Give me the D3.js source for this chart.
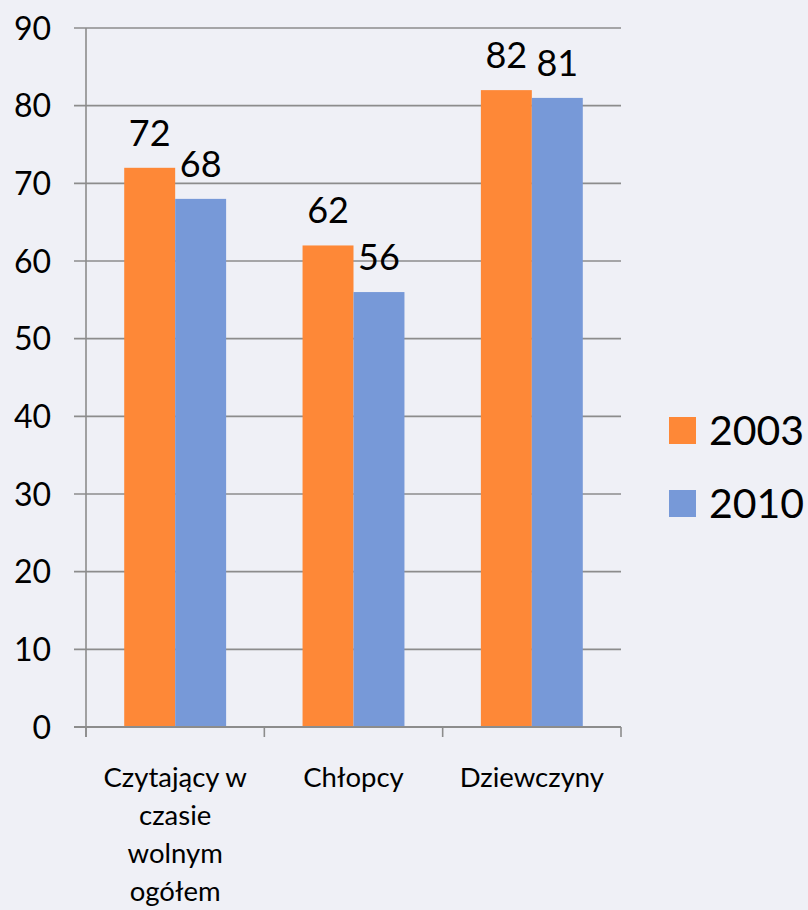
<!DOCTYPE html>
<html>
<head>
<meta charset="utf-8">
<script src="https://cdn.jsdelivr.net/npm/d3@7"></script>
<style>
  html, body { margin: 0; padding: 0; background: #eff0f6; }
  svg { display: block; font-family: Lato, "Open Sans", sans-serif; }
</style>
</head>
<body>
<svg width="808" height="910"></svg>
<script>
const categories = ["Czytający w\nczasie\nwolnym\nogółem", "Chłopcy", "Dziewczyny"];
const seriesNames = ["2003", "2010"];
const values2003 = [72, 62, 82];
const values2010 = [68, 56, 81];
const yTicks = [0, 10, 20, 30, 40, 50, 60, 70, 80, 90];
const colors = ["#fe8837", "#7799d8"];

const svg = d3.select("svg");
const rows = categories.map((c, i) => ({ cat: c, vals: [values2003[i], values2010[i]] }));

const x0 = d3.scaleBand().domain(categories).range([86, 621]);
const x1 = d3.scaleBand().domain(seriesNames).range([0, x0.bandwidth()]).paddingOuter(0.75);
const y = d3.scaleLinear().domain([0, 90]).range([727, 28]);

// gridlines
svg.selectAll("line.grid")
  .data(yTicks)
  .enter()
  .append("line")
  .attr("class", "grid")
  .attr("x1", 74)
  .attr("x2", 621)
  .attr("y1", d => y(d))
  .attr("y2", d => y(d))
  .attr("stroke", "#8c8c8c")
  .attr("stroke-width", 1.6);

// y tick labels
svg.selectAll("text.ytick")
  .data(yTicks)
  .enter()
  .append("text")
  .attr("class", "ytick")
  .attr("x", 51)
  .attr("y", d => y(d))
  .attr("dy", "0.36em")
  .attr("text-anchor", "end")
  .attr("font-size", "32px")
  .attr("fill", "#000")
  .text(d => d);

// bars
const group = svg.selectAll("g.cat")
  .data(rows)
  .enter()
  .append("g")
  .attr("class", "cat")
  .attr("transform", d => `translate(${x0(d.cat)},0)`);

group.selectAll("rect")
  .data(d => d.vals.map((v, j) => ({ s: seriesNames[j], v, j })))
  .enter()
  .append("rect")
  .attr("x", d => x1(d.s))
  .attr("width", x1.bandwidth())
  .attr("y", d => y(d.v))
  .attr("height", d => y(0) - y(d.v))
  .attr("fill", d => colors[d.j]);

group.selectAll("text.val")
  .data(d => d.vals.map((v, j) => ({ s: seriesNames[j], v, j })))
  .enter()
  .append("text")
  .attr("class", "val")
  .attr("x", d => x1(d.s) + x1.bandwidth() / 2)
  .attr("y", d => y(d.v) - 22)
  .attr("text-anchor", "middle")
  .attr("font-size", "36px")
  .attr("fill", "#000")
  .text(d => d.v);

// axes lines
svg.append("line")
  .attr("x1", 86).attr("x2", 86)
  .attr("y1", y(90)).attr("y2", y(0) + 10)
  .attr("stroke", "#8c8c8c").attr("stroke-width", 1.6);

svg.append("line")
  .attr("x1", 74).attr("x2", 621)
  .attr("y1", y(0)).attr("y2", y(0))
  .attr("stroke", "#8c8c8c").attr("stroke-width", 2);

const tickXs = categories.map(c => x0(c)).concat([x0.range()[1]]);
svg.selectAll("line.xtick")
  .data(tickXs)
  .enter()
  .append("line")
  .attr("class", "xtick")
  .attr("x1", d => d).attr("x2", d => d)
  .attr("y1", y(0)).attr("y2", y(0) + 10)
  .attr("stroke", "#8c8c8c").attr("stroke-width", 1.6);

// category labels
const catLabel = svg.selectAll("text.cat")
  .data(categories)
  .enter()
  .append("text")
  .attr("class", "cat")
  .attr("text-anchor", "middle")
  .attr("font-size", "27.5px")
  .attr("fill", "#000");

catLabel.selectAll("tspan")
  .data(d => d.split("\n").map(t => ({ t, c: d })))
  .enter()
  .append("tspan")
  .attr("x", d => x0(d.c) + x0.bandwidth() / 2)
  .attr("y", (d, i) => 787 + i * 38)
  .text(d => d.t);

// legend
const legend = svg.selectAll("g.legend")
  .data(seriesNames)
  .enter()
  .append("g")
  .attr("class", "legend")
  .attr("transform", (d, i) => `translate(669, ${417 + i * 73})`);

legend.append("rect")
  .attr("width", 27)
  .attr("height", 27)
  .attr("fill", (d, i) => colors[i]);

legend.append("text")
  .attr("x", 40)
  .attr("y", 28)
  .attr("font-size", "41px")
  .attr("fill", "#000")
  .text(d => d);
</script>
</body>
</html>
